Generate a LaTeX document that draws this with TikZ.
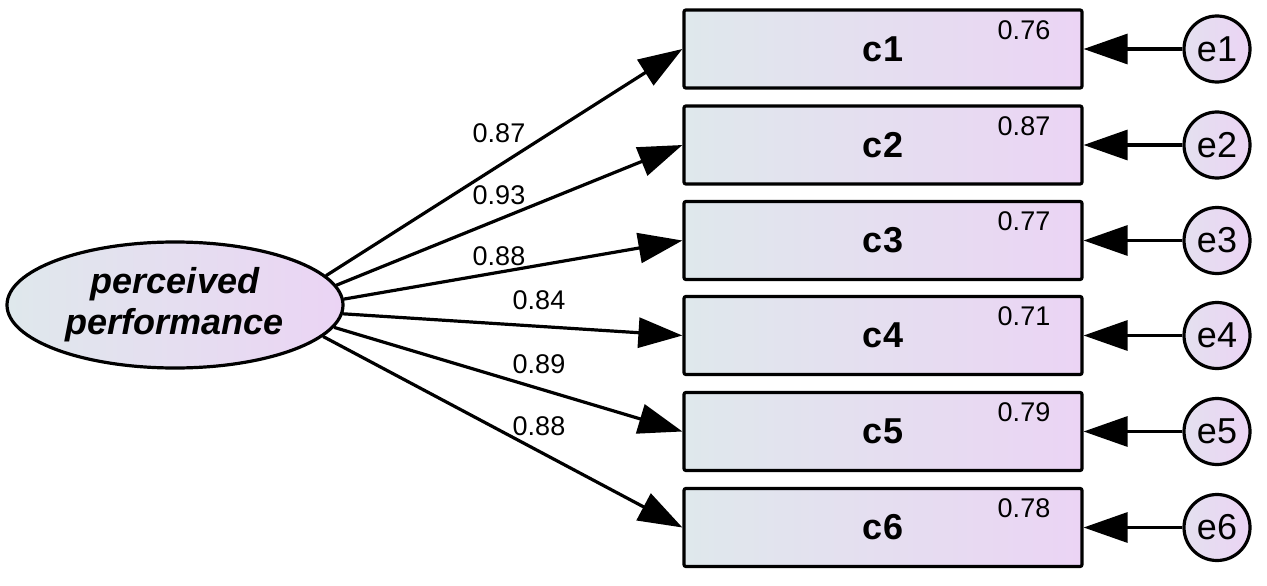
\documentclass[tikz,border=0pt]{standalone}
\usepackage{fontspec}
\setmainfont{Liberation Sans}
\usetikzlibrary{arrows.meta,shapes.geometric}
\definecolor{gleft}{HTML}{DFE8EC}
\definecolor{gright}{HTML}{EBD4F4}
\tikzset{
  x=1pt, y=-1pt,
  shapeline/.style={draw=black, line width=3.2pt},
  latent/.style={shapeline, ellipse, minimum width=336pt, minimum height=126pt, inner sep=0pt,
    left color=gleft, right color=gright, align=center,
    font=\fontsize{36}{41}\selectfont\bfseries\itshape},
  obsbox/.style={shapeline, rectangle, rounded corners=2pt, minimum width=398pt, minimum height=78pt,
    left color=gleft, right color=gright, font=\fontsize{36}{40}\selectfont\bfseries},
  errc/.style={shapeline, circle, minimum size=66pt, inner sep=0pt,
    left color=gleft!60!gright, right color=gright, font=\fontsize{36}{40}\selectfont},
  conn/.style={line width=3.2pt, -{Triangle[length=44pt, width=30pt]}},
  num/.style={font=\fontsize{27}{30}\selectfont, inner sep=0pt},
}
\begin{document}
\begin{tikzpicture}
\useasboundingbox (0,0) rectangle (1267,586);
\node[latent] (pp) at (175,305) {perceived\\performance};
\foreach \i/\y/\r in {1/49/0.76, 2/145/0.87, 3/240.5/0.77, 4/335.5/0.71, 5/431.5/0.79, 6/527.5/0.78} {
  \node[obsbox] (c\i) at (883,\y) {c\i};
  \node[num] (r\i) at (1024,\y-19) {\r};
  \node[errc] (e\i) at (1217,\y) {e\i};
  \draw[conn] (e\i) -- (c\i.east);
}
\draw[conn] (pp.11.2) -- (c1.west);
\draw[conn] (pp.7.1) -- (c2.west);
\draw[conn] (pp.2.4) -- (c3.west);
\draw[conn] (pp.-3.4) -- (c4.west);
\draw[conn] (pp.-8.2) -- (c5.west);
\draw[conn] (pp.-12.7) -- (c6.west);
\node[num] (l1) at (499,133) {0.87};
\node[num] (l2) at (499,195) {0.93};
\node[num] (l3) at (499,256) {0.88};
\node[num] (l4) at (539,300) {0.84};
\node[num] (l5) at (539,364) {0.89};
\node[num] (l6) at (539,426) {0.88};
\end{tikzpicture}
\end{document}
